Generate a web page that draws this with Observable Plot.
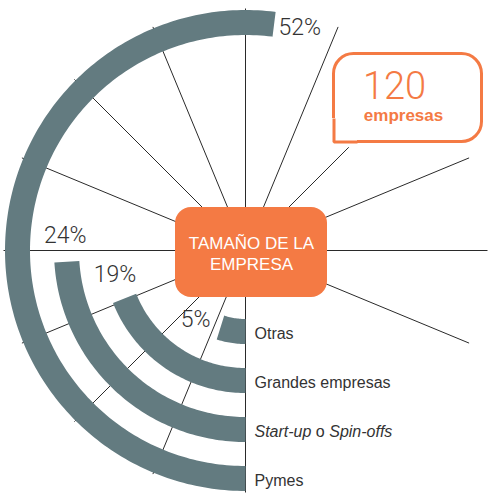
<!DOCTYPE html>
<html>
<head>
<meta charset="utf-8">
<script src="https://cdn.jsdelivr.net/npm/d3@7"></script>
<script src="https://cdn.jsdelivr.net/npm/@observablehq/plot@0.6"></script>
<style>
  html, body { margin: 0; padding: 0; background: #fff; }
  #chart svg { display: block; }
</style>
</head>
<body>
<div id="chart"></div>
<script>
// ---- data ----
const categories = ["Otras", "Grandes empresas", "Start-up o Spin-offs", "Pymes"];
const shares = [5, 19, 24, 52];
const shareLabels = ["5%", "19%", "24%", "52%"];
const totalCount = "120";
const totalUnit = "empresas";
const centerTitle = "TAMAÑO DE LA\nEMPRESA";
const spokeAngles = [0, 22.5, 45, 67.5, 90, 112.5, 180, 202.5, 225, 247.5, 270, 292.5, 315, 337.5];

// ---- styling / geometry ----
const GREY = "#637b80";
const ORANGE = "#f47a44";
const TEXT = "#333";
const FONT = "'Liberation Sans', Arial, sans-serif";
const rad = d => d * Math.PI / 180;
const ringRadius = i => 81 + 49 * i;
const startAngle = 180; // bars start pointing straight down, run clockwise
const endAngle = i => startAngle + shares[i] * 3.6;

// arc centre-lines built from each share
const arcs = [];
categories.forEach((c, i) => {
  const r = ringRadius(i), e = endAngle(i);
  for (let a = startAngle; a < e; a += 1) arcs.push({c, x: r * Math.sin(rad(a)), y: r * Math.cos(rad(a))});
  arcs.push({c, x: r * Math.sin(rad(e)), y: r * Math.cos(rad(e))});
});

// percentage labels just past each bar end, along the tangent
const labelGap = 26;
const pctLabels = categories.map((c, i) => {
  const r = ringRadius(i), t = rad(endAngle(i));
  return {label: shareLabels[i],
    x: r * Math.sin(t) + labelGap * Math.cos(t),
    y: r * Math.cos(t) - labelGap * Math.sin(t)};
});

// category names at the foot of each ring
const catLabels = categories.map((c, i) => ({c, y: -ringRadius(i)}));

const spokes = spokeAngles.map(a => {
  const len = a === 45 ? 146 : 242;
  return {x: len * Math.sin(rad(a)), y: len * Math.cos(rad(a))};
});

const plot = Plot.plot({
  width: 501,
  height: 495,
  margin: 0,
  x: {domain: [-245, 256], axis: null},
  y: {domain: [-245, 250], axis: null},
  style: {fontFamily: FONT, background: "#fff"},
  marks: [
    Plot.link(spokes, {x1: () => 0, y1: () => 0, x2: "x", y2: "y", stroke: "#2a2a2a", strokeWidth: 1}),
    Plot.line(arcs, {x: "x", y: "y", z: "c", stroke: GREY, strokeWidth: 25, strokeLinecap: "butt", strokeLinejoin: "round"}),
    Plot.text(pctLabels, {x: "x", y: "y", text: "label", fontSize: 23, fill: TEXT, fontFamily: "Roboto, 'Liberation Sans', sans-serif", fontWeight: 300}),
    Plot.text(catLabels, {x: () => 0, y: "y", text: "c", dx: 9, dy: 2, textAnchor: "start", fontSize: 16, fill: TEXT}),
    // centre box
    Plot.rect([0], {x1: () => -70, x2: () => 82, y1: () => -47, y2: () => 43, fill: ORANGE, rx: 16}),
    Plot.text([centerTitle], {x: () => 6, y: () => -2, text: d => d, fill: "#fff", fontSize: 17, lineHeight: 1.25}),
    // 120 empresas call-out
    Plot.rect([0], {x1: () => 88.5, x2: () => 236.5, y1: () => 108.5, y2: () => 196.5, fill: "#fff", stroke: ORANGE, strokeWidth: 3, rx: 20}),
    Plot.rect([0], {x1: () => 86.5, x2: () => 112, y1: () => 106.5, y2: () => 132, fill: "#fff"}),
    Plot.line([[88.5, 132], [88.5, 108.5], [112, 108.5]], {stroke: ORANGE, strokeWidth: 3, strokeLinejoin: "miter", strokeLinecap: "butt"}),
    Plot.text([totalCount], {x: () => 149, y: () => 164, text: d => d, fill: ORANGE, fontSize: 38, fontWeight: 300, fontFamily: "Roboto, 'Liberation Sans', sans-serif"}),
    Plot.text([totalUnit], {x: () => 158, y: () => 135, text: d => d, fill: ORANGE, fontSize: 17, fontWeight: "bold"})
  ]
});

// italicise "Start-up" and "Spin-offs"
plot.querySelectorAll("text").forEach(t => {
  if (t.textContent === "Start-up o Spin-offs") {
    t.textContent = "";
    [["Start-up", true], [" o ", false], ["Spin-offs", true]].forEach(([s, it]) => {
      const ts = document.createElementNS("http://www.w3.org/2000/svg", "tspan");
      ts.textContent = s;
      if (it) ts.setAttribute("font-style", "italic");
      t.appendChild(ts);
    });
  }
});

document.getElementById("chart").appendChild(plot);
</script>
</body>
</html>
